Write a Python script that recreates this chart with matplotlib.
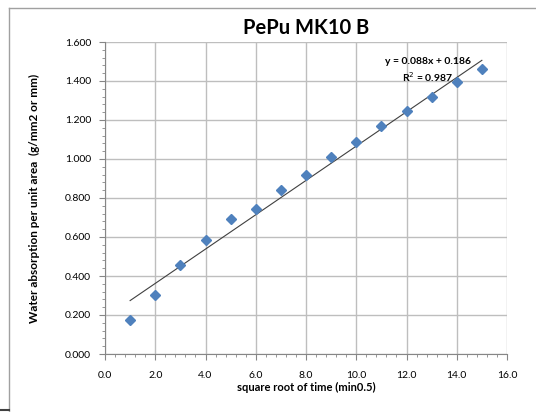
import matplotlib
matplotlib.use('Agg')
import matplotlib.pyplot as plt
from matplotlib.lines import Line2D
from matplotlib.ticker import MultipleLocator, FormatStrFormatter

plt.rcParams['font.family'] = ['Lato', 'DejaVu Sans']

# sqrt(time) vs. water absorption per unit area
sqrt_time = [1, 2, 3, 4, 5, 6, 7, 8, 9, 10, 11, 12, 13, 14, 15]
absorption = [0.174, 0.303, 0.456, 0.585, 0.692, 0.744, 0.841, 0.918,
              1.010, 1.087, 1.169, 1.246, 1.318, 1.395, 1.462]

# linear trendline reported with the chart
slope = 0.088
intercept = 0.186
r_squared = 0.987

fig = plt.figure(figsize=(5.36, 4.12), dpi=100)
ax = fig.add_axes([105 / 536, 1 - 354 / 412, 402 / 536, 312 / 412])

# chart area border
fig.add_artist(Line2D([9 / 536, 9 / 536], [0, 1 - 8 / 412], color='#A0A0A0', lw=1))
fig.add_artist(Line2D([9 / 536, 1], [1 - 8 / 412, 1 - 8 / 412], color='#A0A0A0', lw=1))
fig.add_artist(Line2D([0, 9 / 536], [2 / 412, 2 / 412], color='#404040', lw=1.5))

ax.plot(sqrt_time, absorption, linestyle='none', marker='D', markersize=4.8,
        color='#4F81BD', zorder=3)

trend_x = [sqrt_time[0], sqrt_time[-1]]
trend_y = [slope * x + intercept for x in trend_x]
ax.plot(trend_x, trend_y, color='#404040', lw=0.8, zorder=2)

ax.text(12.85, 1.50, f'y = {slope:.3f}x + {intercept:.3f}', ha='center',
        va='center', fontsize=7.5, fontweight='bold')
ax.text(12.85, 1.42, f'R$^2$ = {r_squared:.3f}', ha='center', va='center',
        fontsize=7.5, fontweight='bold')

ax.set_xlim(0, 16)
ax.set_ylim(0, 1.6)
ax.xaxis.set_major_locator(MultipleLocator(2))
ax.xaxis.set_minor_locator(MultipleLocator(0.4))
ax.yaxis.set_major_locator(MultipleLocator(0.2))
ax.yaxis.set_minor_locator(MultipleLocator(0.04))
ax.xaxis.set_major_formatter(FormatStrFormatter('%.1f'))
ax.yaxis.set_major_formatter(FormatStrFormatter('%.3f'))

ax.grid(True, which='major', color='#BEBEBE', lw=1)
ax.set_axisbelow(True)
for side in ('top', 'right'):
    ax.spines[side].set_visible(False)
for side in ('left', 'bottom'):
    ax.spines[side].set_color('#868686')
ax.tick_params(which='major', length=4, color='#868686', labelsize=7.5)
ax.tick_params(which='minor', length=2, color='#868686')
ax.tick_params(axis='y', pad=6)
ax.tick_params(axis='x', pad=8)

ax.set_title('PePu MK10 B', fontsize=14.5, fontweight='bold', pad=6)
ax.set_xlabel('square root of time (min0.5)', fontsize=8, fontweight='bold', labelpad=2)
ax.set_ylabel('Water absorption per unit area  (g/mm2 or mm)', fontsize=8.5,
              fontweight='bold', labelpad=18)

fig.savefig('out.png', dpi=100)
